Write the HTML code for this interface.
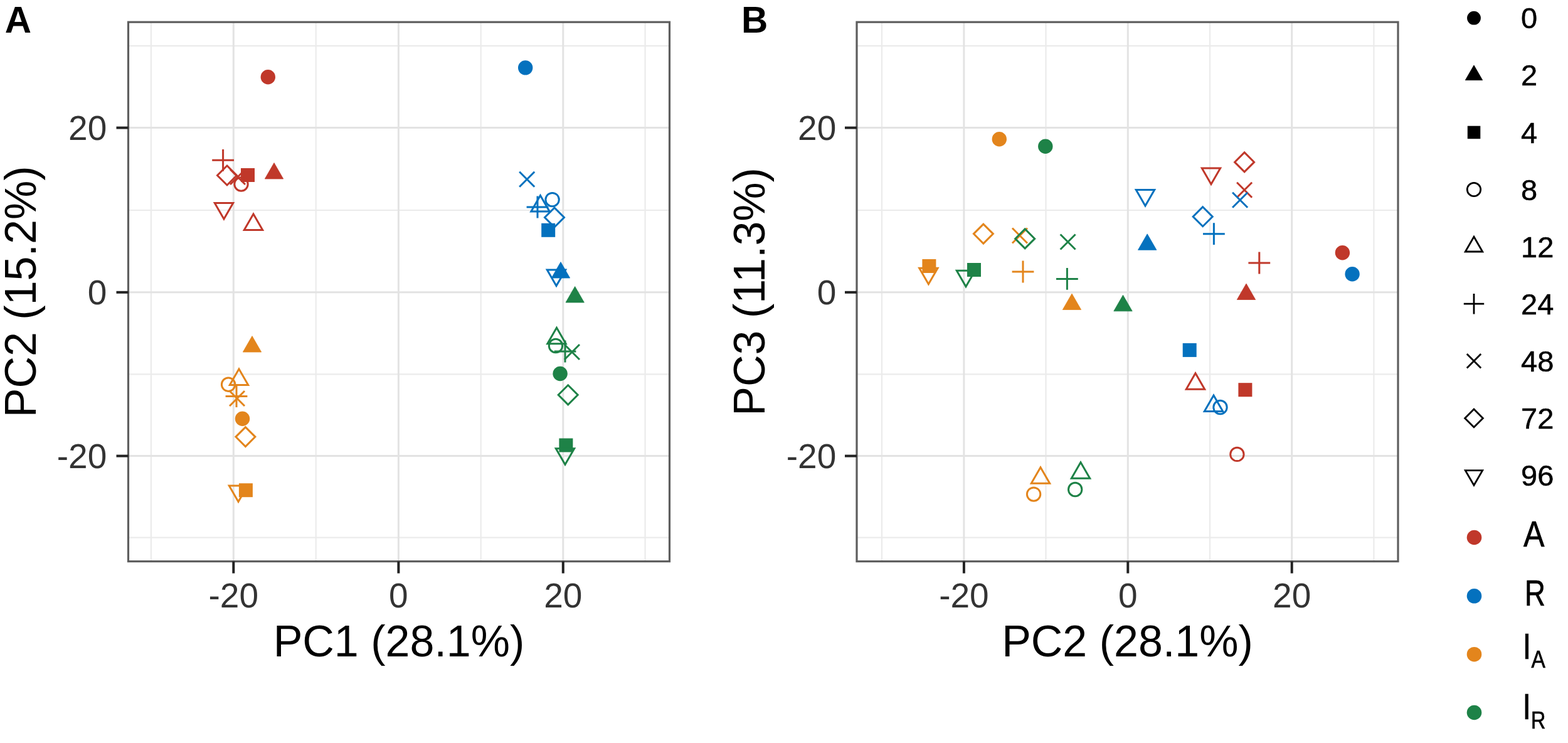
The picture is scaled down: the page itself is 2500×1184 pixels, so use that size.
<!DOCTYPE html>
<html><head><meta charset="utf-8"><title>PCA plots</title>
<style>
html,body{margin:0;padding:0;background:#fff;}
body{width:2500px;height:1184px;overflow:hidden;}
svg{display:block;}
text{font-family:'Liberation Sans', Arial, Helvetica, sans-serif;}
</style></head><body>
<svg width="2500" height="1184" viewBox="0 0 2500 1184">
<rect width="2500" height="1184" fill="#fff"/>
<g stroke="#EBEBEB" stroke-width="2.2"><line x1="240.9" y1="35.2" x2="240.9" y2="894.6"/><line x1="503.7" y1="35.2" x2="503.7" y2="894.6"/><line x1="766.7" y1="35.2" x2="766.7" y2="894.6"/><line x1="1028.6" y1="35.2" x2="1028.6" y2="894.6"/><line x1="204.5" y1="73.1" x2="1067.5" y2="73.1"/><line x1="204.5" y1="335" x2="1067.5" y2="335"/><line x1="204.5" y1="596.3" x2="1067.5" y2="596.3"/><line x1="204.5" y1="856.7" x2="1067.5" y2="856.7"/></g>
<g stroke="#E3E3E3" stroke-width="3"><line x1="372.3" y1="35.2" x2="372.3" y2="894.6"/><line x1="635.4" y1="35.2" x2="635.4" y2="894.6"/><line x1="897.8" y1="35.2" x2="897.8" y2="894.6"/><line x1="204.5" y1="203.6" x2="1067.5" y2="203.6"/><line x1="204.5" y1="465.8" x2="1067.5" y2="465.8"/><line x1="204.5" y1="726.6" x2="1067.5" y2="726.6"/></g>
<g><circle cx="427.3" cy="122.7" r="11.7" fill="#C0382A"/><polygon points="437,259.5 451.7,285 422.3,285" fill="#C0382A" stroke="#C0382A" stroke-width="0.8" stroke-linejoin="round"/><rect x="384" y="268" width="22" height="22" fill="#C0382A"/><circle cx="384.5" cy="293.5" r="10.7" fill="none" stroke="#C0382A" stroke-width="3"/><polygon points="404,341 418.7,366.5 389.3,366.5" fill="none" stroke="#C0382A" stroke-width="3" stroke-linejoin="miter"/><path d="M338.2 255.3H373M355.6 237.9V272.7" stroke="#C0382A" stroke-width="3" fill="none"/><path d="M367 270L391 294M367 294L391 270" stroke="#C0382A" stroke-width="3" fill="none"/><polygon points="362,264 377.5,279.5 362,295 346.5,279.5" fill="none" stroke="#C0382A" stroke-width="3" stroke-linejoin="miter"/><polygon points="357,349 371.7,323.5 342.3,323.5" fill="none" stroke="#C0382A" stroke-width="3" stroke-linejoin="miter"/><circle cx="837.7" cy="107.9" r="11.7" fill="#0471BE"/><polygon points="894,417.5 908.7,443 879.3,443" fill="#0471BE" stroke="#0471BE" stroke-width="0.8" stroke-linejoin="round"/><rect x="863.2" y="355.8" width="22" height="22" fill="#0471BE"/><circle cx="880.6" cy="318.1" r="10.7" fill="none" stroke="#0471BE" stroke-width="3"/><polygon points="861.5,311.5 876.2,337 846.8,337" fill="none" stroke="#0471BE" stroke-width="3" stroke-linejoin="miter"/><path d="M839.6 330H874.4M857 312.6V347.4" stroke="#0471BE" stroke-width="3" fill="none"/><path d="M828.2 273.8L852.2 297.8M828.2 297.8L852.2 273.8" stroke="#0471BE" stroke-width="3" fill="none"/><polygon points="884,331 899.5,346.5 884,362 868.5,346.5" fill="none" stroke="#0471BE" stroke-width="3" stroke-linejoin="miter"/><polygon points="887,455.5 901.7,430 872.3,430" fill="none" stroke="#0471BE" stroke-width="3" stroke-linejoin="miter"/><circle cx="386.5" cy="667.2" r="11.7" fill="#E3851C"/><polygon points="402,535.5 416.7,561 387.3,561" fill="#E3851C" stroke="#E3851C" stroke-width="0.8" stroke-linejoin="round"/><rect x="380.9" y="770.2" width="22" height="22" fill="#E3851C"/><circle cx="364.1" cy="612.7" r="10.7" fill="none" stroke="#E3851C" stroke-width="3"/><polygon points="381,588 395.7,613.5 366.3,613.5" fill="none" stroke="#E3851C" stroke-width="3" stroke-linejoin="miter"/><path d="M359.6 631.5H394.4M377 614.1V648.9" stroke="#E3851C" stroke-width="3" fill="none"/><path d="M366 623L390 647M366 647L390 623" stroke="#E3851C" stroke-width="3" fill="none"/><polygon points="391.4,680.6 406.9,696.1 391.4,711.6 375.9,696.1" fill="none" stroke="#E3851C" stroke-width="3" stroke-linejoin="miter"/><polygon points="380,799.5 394.7,774 365.3,774" fill="none" stroke="#E3851C" stroke-width="3" stroke-linejoin="miter"/><circle cx="893.1" cy="595.5" r="11.7" fill="#1E8247"/><polygon points="916.7,456.5 931.4,482 902,482" fill="#1E8247" stroke="#1E8247" stroke-width="0.8" stroke-linejoin="round"/><rect x="891.4" y="698.5" width="22" height="22" fill="#1E8247"/><circle cx="886" cy="551" r="10.7" fill="none" stroke="#1E8247" stroke-width="3"/><polygon points="887.5,522.2 902.2,547.7 872.8,547.7" fill="none" stroke="#1E8247" stroke-width="3" stroke-linejoin="miter"/><path d="M883.6 560H918.4M901 542.6V577.4" stroke="#1E8247" stroke-width="3" fill="none"/><path d="M900 549L924 573M900 573L924 549" stroke="#1E8247" stroke-width="3" fill="none"/><polygon points="905.7,613.8 921.2,629.3 905.7,644.8 890.2,629.3" fill="none" stroke="#1E8247" stroke-width="3" stroke-linejoin="miter"/><polygon points="901,740.2 915.7,714.7 886.3,714.7" fill="none" stroke="#1E8247" stroke-width="3" stroke-linejoin="miter"/></g>
<rect x="204.5" y="35.2" width="863" height="859.4" fill="none" stroke="#5E5E5E" stroke-width="3.2"/>
<g stroke="#222" stroke-width="4"><line x1="185.5" y1="203.6" x2="204.5" y2="203.6"/><line x1="185.5" y1="465.8" x2="204.5" y2="465.8"/><line x1="185.5" y1="726.6" x2="204.5" y2="726.6"/><line x1="372.3" y1="894.6" x2="372.3" y2="913.6"/><line x1="635.4" y1="894.6" x2="635.4" y2="913.6"/><line x1="897.8" y1="894.6" x2="897.8" y2="913.6"/></g>
<g font-size="55" fill="#333"><text x="170.3" y="223.1" text-anchor="end">20</text><text x="170.3" y="485.3" text-anchor="end">0</text><text x="170.3" y="746.1" text-anchor="end">-20</text><text x="372.3" y="968.3" text-anchor="middle">-20</text><text x="635.4" y="968.3" text-anchor="middle">0</text><text x="897.8" y="968.3" text-anchor="middle">20</text></g>
<text x="636" y="1046.2" font-size="70" text-anchor="middle" fill="#000">PC1 (28.1%)</text>
<text transform="translate(57.2 464.9) rotate(-90)" font-size="70" text-anchor="middle" fill="#000">PC2 (15.2%)</text>
<text x="7.8" y="51.8" font-size="58.5" font-weight="bold" fill="#000">A</text>
<g stroke="#EBEBEB" stroke-width="2.2"><line x1="1406" y1="35.2" x2="1406" y2="894.6"/><line x1="1667.5" y1="35.2" x2="1667.5" y2="894.6"/><line x1="1929" y1="35.2" x2="1929" y2="894.6"/><line x1="2190.4" y1="35.2" x2="2190.4" y2="894.6"/><line x1="1366" y1="73.1" x2="2229" y2="73.1"/><line x1="1366" y1="335" x2="2229" y2="335"/><line x1="1366" y1="596.3" x2="2229" y2="596.3"/><line x1="1366" y1="856.7" x2="2229" y2="856.7"/></g>
<g stroke="#E3E3E3" stroke-width="3"><line x1="1536.9" y1="35.2" x2="1536.9" y2="894.6"/><line x1="1798.3" y1="35.2" x2="1798.3" y2="894.6"/><line x1="2059.7" y1="35.2" x2="2059.7" y2="894.6"/><line x1="1366" y1="203.6" x2="2229" y2="203.6"/><line x1="1366" y1="465.8" x2="2229" y2="465.8"/><line x1="1366" y1="726.6" x2="2229" y2="726.6"/></g>
<g><circle cx="2140.4" cy="402.8" r="11.7" fill="#C0382A"/><polygon points="1987,452 2001.7,477.5 1972.3,477.5" fill="#C0382A" stroke="#C0382A" stroke-width="0.8" stroke-linejoin="round"/><rect x="1974.4" y="610.2" width="22" height="22" fill="#C0382A"/><circle cx="1972.4" cy="723.9" r="10.7" fill="none" stroke="#C0382A" stroke-width="3"/><polygon points="1906,594.8 1920.7,620.3 1891.3,620.3" fill="none" stroke="#C0382A" stroke-width="3" stroke-linejoin="miter"/><path d="M1990.4 419H2025.2M2007.8 401.6V436.4" stroke="#C0382A" stroke-width="3" fill="none"/><path d="M1972.1 290.7L1996.1 314.7M1972.1 314.7L1996.1 290.7" stroke="#C0382A" stroke-width="3" fill="none"/><polygon points="1984.1,242.9 1999.6,258.4 1984.1,273.9 1968.6,258.4" fill="none" stroke="#C0382A" stroke-width="3" stroke-linejoin="miter"/><polygon points="1931,293.5 1945.7,268 1916.3,268" fill="none" stroke="#C0382A" stroke-width="3" stroke-linejoin="miter"/><circle cx="2156.1" cy="436.8" r="11.7" fill="#0471BE"/><polygon points="1829.2,372.8 1843.9,398.3 1814.5,398.3" fill="#0471BE" stroke="#0471BE" stroke-width="0.8" stroke-linejoin="round"/><rect x="1885.7" y="546.9" width="22" height="22" fill="#0471BE"/><circle cx="1945.5" cy="649" r="10.7" fill="none" stroke="#0471BE" stroke-width="3"/><polygon points="1935,630 1949.7,655.5 1920.3,655.5" fill="none" stroke="#0471BE" stroke-width="3" stroke-linejoin="miter"/><path d="M1918 372.7H1952.8M1935.4 355.3V390.1" stroke="#0471BE" stroke-width="3" fill="none"/><path d="M1965.1 306.7L1989.1 330.7M1965.1 330.7L1989.1 306.7" stroke="#0471BE" stroke-width="3" fill="none"/><polygon points="1917.7,329.7 1933.2,345.2 1917.7,360.7 1902.2,345.2" fill="none" stroke="#0471BE" stroke-width="3" stroke-linejoin="miter"/><polygon points="1826,328 1840.7,302.5 1811.3,302.5" fill="none" stroke="#0471BE" stroke-width="3" stroke-linejoin="miter"/><circle cx="1593.3" cy="221.8" r="11.7" fill="#E3851C"/><polygon points="1709,468 1723.7,493.5 1694.3,493.5" fill="#E3851C" stroke="#E3851C" stroke-width="0.8" stroke-linejoin="round"/><rect x="1470.4" y="413" width="22" height="22" fill="#E3851C"/><circle cx="1648.1" cy="787.6" r="10.7" fill="none" stroke="#E3851C" stroke-width="3"/><polygon points="1659,744.7 1673.7,770.2 1644.3,770.2" fill="none" stroke="#E3851C" stroke-width="3" stroke-linejoin="miter"/><path d="M1613.6 433H1648.4M1631 415.6V450.4" stroke="#E3851C" stroke-width="3" fill="none"/><path d="M1614 363.5L1638 387.5M1614 387.5L1638 363.5" stroke="#E3851C" stroke-width="3" fill="none"/><polygon points="1567.9,357.1 1583.4,372.6 1567.9,388.1 1552.4,372.6" fill="none" stroke="#E3851C" stroke-width="3" stroke-linejoin="miter"/><polygon points="1480.4,452.8 1495.1,427.3 1465.7,427.3" fill="none" stroke="#E3851C" stroke-width="3" stroke-linejoin="miter"/><circle cx="1666.8" cy="233.2" r="11.7" fill="#1E8247"/><polygon points="1790.5,470.3 1805.2,495.8 1775.8,495.8" fill="#1E8247" stroke="#1E8247" stroke-width="0.8" stroke-linejoin="round"/><rect x="1542" y="419" width="22" height="22" fill="#1E8247"/><circle cx="1714.2" cy="780" r="10.7" fill="none" stroke="#1E8247" stroke-width="3"/><polygon points="1723,736.8 1737.7,762.3 1708.3,762.3" fill="none" stroke="#1E8247" stroke-width="3" stroke-linejoin="miter"/><path d="M1684 444.4H1718.8M1701.4 427V461.8" stroke="#1E8247" stroke-width="3" fill="none"/><path d="M1690.6 373.5L1714.6 397.5M1690.6 397.5L1714.6 373.5" stroke="#1E8247" stroke-width="3" fill="none"/><polygon points="1634.2,364.9 1649.7,380.4 1634.2,395.9 1618.7,380.4" fill="none" stroke="#1E8247" stroke-width="3" stroke-linejoin="miter"/><polygon points="1540,456.7 1554.7,431.2 1525.3,431.2" fill="none" stroke="#1E8247" stroke-width="3" stroke-linejoin="miter"/></g>
<rect x="1366" y="35.2" width="863" height="859.4" fill="none" stroke="#5E5E5E" stroke-width="3.2"/>
<g stroke="#222" stroke-width="4"><line x1="1347" y1="203.6" x2="1366" y2="203.6"/><line x1="1347" y1="465.8" x2="1366" y2="465.8"/><line x1="1347" y1="726.6" x2="1366" y2="726.6"/><line x1="1536.9" y1="894.6" x2="1536.9" y2="913.6"/><line x1="1798.3" y1="894.6" x2="1798.3" y2="913.6"/><line x1="2059.7" y1="894.6" x2="2059.7" y2="913.6"/></g>
<g font-size="55" fill="#333"><text x="1333.3" y="223.1" text-anchor="end">20</text><text x="1333.3" y="485.3" text-anchor="end">0</text><text x="1333.3" y="746.1" text-anchor="end">-20</text><text x="1536.9" y="968.3" text-anchor="middle">-20</text><text x="1798.3" y="968.3" text-anchor="middle">0</text><text x="2059.7" y="968.3" text-anchor="middle">20</text></g>
<text x="1797.5" y="1046.2" font-size="70" text-anchor="middle" fill="#000">PC2 (28.1%)</text>
<text transform="translate(1218.7 464.9) rotate(-90)" font-size="70" text-anchor="middle" fill="#000">PC3 (11.3%)</text>
<text x="1182" y="51.8" font-size="58.5" font-weight="bold" fill="#000">B</text>
<g><circle cx="2350" cy="28.7" r="10.9" fill="#000"/><text x="2425" y="45.3" font-size="47" fill="#000" stroke="#000" stroke-width="0.5">0</text><polygon points="2350,104 2363.7,127.7 2336.3,127.7" fill="#000" stroke="#000" stroke-width="0.8" stroke-linejoin="round"/><text x="2425" y="136.4" font-size="47" fill="#000" stroke="#000" stroke-width="0.5">2</text><rect x="2339.8" y="200.7" width="20.5" height="20.5" fill="#000"/><text x="2425" y="227.5" font-size="47" fill="#000" stroke="#000" stroke-width="0.5">4</text><circle cx="2350" cy="302" r="10.7" fill="none" stroke="#000" stroke-width="2.8"/><text x="2425" y="318.6" font-size="47" fill="#000" stroke="#000" stroke-width="0.5">8</text><polygon points="2350,377.3 2363.7,401 2336.3,401" fill="none" stroke="#000" stroke-width="2.8" stroke-linejoin="miter"/><text x="2425" y="409.7" font-size="47" fill="#000" stroke="#000" stroke-width="0.5">12</text><path d="M2333.8 484.2H2366.2M2350 468V500.4" stroke="#000" stroke-width="2.8" fill="none"/><text x="2425" y="500.8" font-size="47" fill="#000" stroke="#000" stroke-width="0.5">24</text><path d="M2338.8 564.1L2361.2 586.5M2338.8 586.5L2361.2 564.1" stroke="#000" stroke-width="2.8" fill="none"/><text x="2425" y="591.9" font-size="47" fill="#000" stroke="#000" stroke-width="0.5">48</text><polygon points="2350,652 2364.4,666.4 2350,680.8 2335.6,666.4" fill="none" stroke="#000" stroke-width="2.8" stroke-linejoin="miter"/><text x="2425" y="683" font-size="47" fill="#000" stroke="#000" stroke-width="0.5">72</text><polygon points="2350,773.3 2363.7,749.6 2336.3,749.6" fill="none" stroke="#000" stroke-width="2.8" stroke-linejoin="miter"/><text x="2425" y="774.1" font-size="47" fill="#000" stroke="#000" stroke-width="0.5">96</text><circle cx="2350.5" cy="856.5" r="11.8" fill="#C0382A"/><circle cx="2350.5" cy="949.8" r="11.8" fill="#0471BE"/><circle cx="2350.5" cy="1042.7" r="11.8" fill="#E3851C"/><circle cx="2350.5" cy="1135.5" r="11.8" fill="#1E8247"/><text transform="translate(2429 871.2) scale(0.88 1)" font-size="57" fill="#000" stroke="#000" stroke-width="0.7">A</text><text transform="translate(2431 964.8) scale(0.8 1)" font-size="57" fill="#000" stroke="#000" stroke-width="0.7">R</text><text transform="translate(2427.5 1049.5) scale(0.88 1)" font-size="57" fill="#000" stroke="#000" stroke-width="0.7">I<tspan font-size="38" dy="14.7">A</tspan></text><text transform="translate(2427.5 1146.4) scale(0.85 1)" font-size="57" fill="#000" stroke="#000" stroke-width="0.7">I<tspan font-size="38" dy="14.7">R</tspan></text></g>
</svg>
</body></html>
